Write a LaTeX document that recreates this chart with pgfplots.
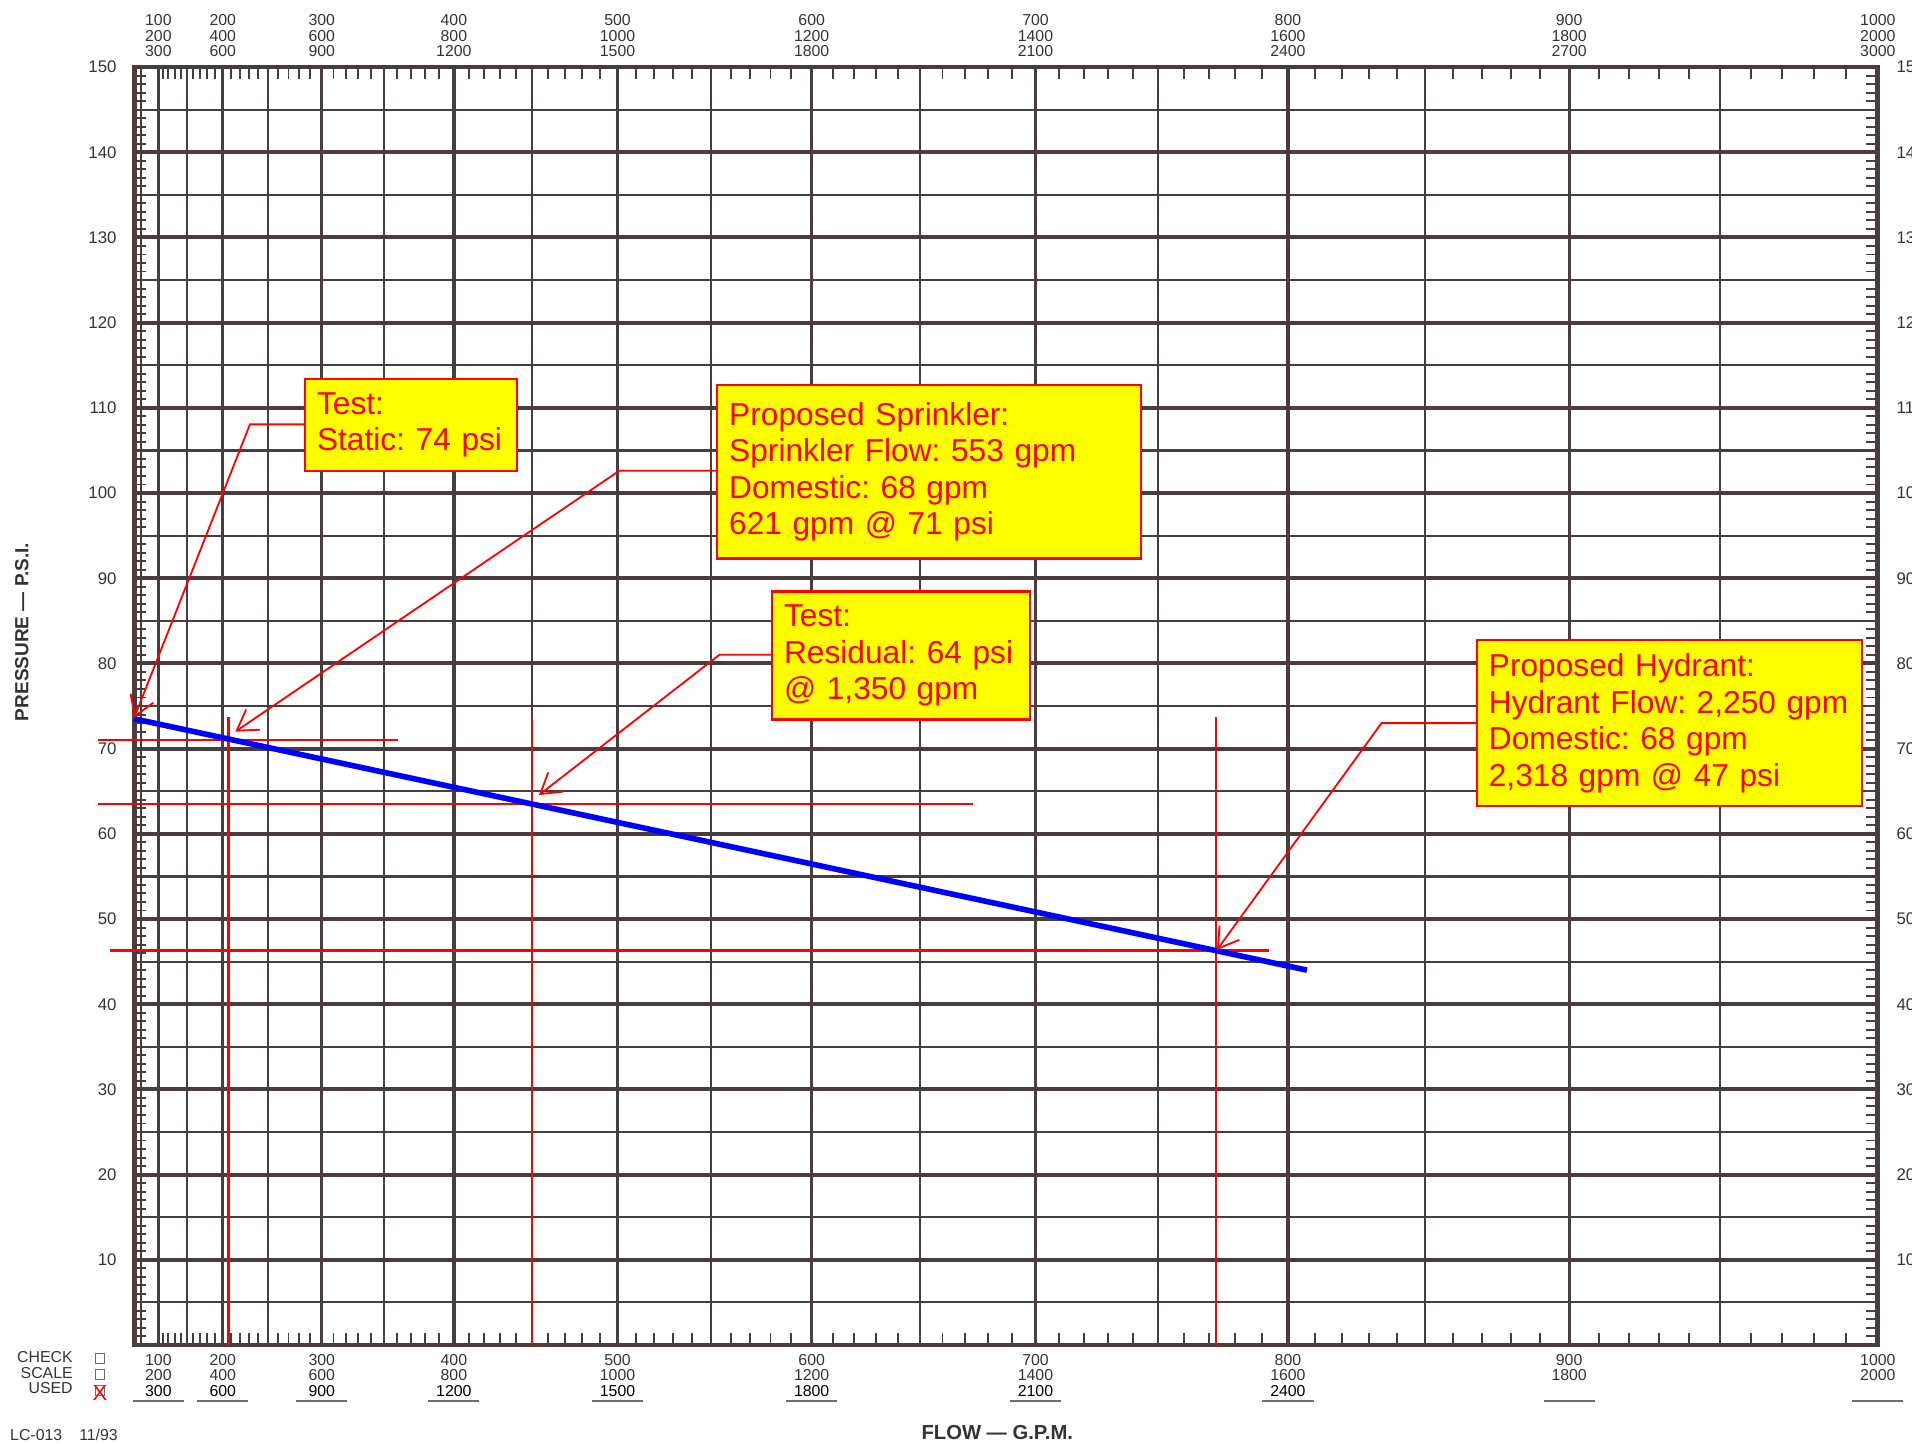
\documentclass[border=0pt]{standalone}
\usepackage{pgfplots}
\pgfplotsset{compat=1.18}
\usepackage{fontspec}
\setmainfont{Liberation Sans}
\usetikzlibrary{arrows.meta}
\definecolor{gridc}{RGB}{72,60,60}
\definecolor{printc}{RGB}{55,50,50}
\definecolor{ulc}{RGB}{110,110,110}
\definecolor{annred}{RGB}{255,0,0}
\definecolor{annyel}{RGB}{255,255,0}
\definecolor{flowblue}{RGB}{0,0,255}
\frenchspacing
\newcommand\ul[1]{\rlap{\textcolor{ulc}{\rule[-2.2pt]{21pt}{0.75pt}}}\makebox[21pt]{\textcolor{black}{#1}}}
\newcommand\lblfont{\fontsize{6.5}{6.4}\selectfont}
\pgfplotsset{
  base/.style={
    scale only axis, width=715pt, height=524pt,
    at={(0,0)}, anchor=south west,
    xmin=0, xmax=3000, ymin=0, ymax=150,
    x coord trafo/.code={\pgfmathparse{100*pow(max(##1,30)/3000,1.85)}},
    x coord inv trafo/.code={\pgfmathparse{3000*pow(max(##1,0.01)/100,0.5405405)}},
    /pgf/number format/assume math mode=true,
  },
  nolabels/.style={xticklabels={}, yticklabels={}, major tick length=0pt, minor tick length=0pt, axis line style={draw=none}},
}
\tikzset{
  annbox/.style={draw=annred, fill=annyel, text=annred, line width=0.9pt, align=left,
    font=\fontsize{13}{15}\selectfont, inner xsep=5pt, inner ysep=0pt},
  annarrow/.style={annred, line width=0.75pt, -{Straight Barb[length=8pt,width=10pt]}},
  guide/.style={annred, line width=1pt},
}
\begin{document}
\begin{tikzpicture}
% vertical grid
\begin{axis}[base, nolabels,
  xtick={300,600,...,2700}, minor xtick={150,450,...,2850},
  ytick=\empty,
  xmajorgrids, xminorgrids,
  major grid style={gridc, line width=1.35pt},
  minor grid style={gridc, line width=0.9pt}]
\end{axis}
% horizontal grid
\begin{axis}[base, nolabels,
  xtick=\empty,
  ytick={10,20,...,140}, minor ytick={5,15,...,145},
  ymajorgrids, yminorgrids,
  major grid style={gridc, line width=1.6pt},
  minor grid style={gridc, line width=0.9pt}]
\end{axis}
% ruler ticks
\begin{axis}[base, xticklabels={}, yticklabels={}, axis line style={draw=none},
  xtick={330,360,...,2970}, ytick={1,2,...,149},
  tick align=inside, tick pos=both, major tick length=5pt,
  major tick style={gridc, line width=0.8pt}]
\end{axis}
% top and right labels
\begin{axis}[base, axis line style={draw=none}, major tick length=0pt,
  xtick={300,600,...,3000}, ytick={10,20,...,150},
  xticklabel pos=right, yticklabel pos=right,
  xticklabels={{100\\200\\300},{200\\400\\600},{300\\600\\900},{400\\800\\1200},{500\\1000\\1500},{600\\1200\\1800},{700\\1400\\2100},{800\\1600\\2400},{900\\1800\\2700},{1000\\2000\\3000}},
  xticklabel style={font=\lblfont, align=center, text=printc, inner sep=0pt, yshift=4pt},
  yticklabel style={font=\fontsize{6.9}{7}\selectfont, text=printc, inner sep=0pt, xshift=7.5pt}]
\end{axis}
% main axis
\begin{axis}[base, clip=false,
  axis line style={gridc, line width=2pt},
  xtick={300,600,...,3000}, ytick={10,20,...,150},
  major tick length=0pt, tick pos=left,
  xticklabels={{100\\200\\\ul{300}},{200\\400\\\ul{600}},{300\\600\\\ul{900}},{400\\800\\\ul{1200}},{500\\1000\\\ul{1500}},{600\\1200\\\ul{1800}},{700\\1400\\\ul{2100}},{800\\1600\\\ul{2400}},{900\\1800\\\ul{}},{1000\\2000\\\ul{}}},
  xticklabel style={font=\lblfont, align=center, text=printc, inner sep=0pt, yshift=-3.5pt},
  yticklabel style={font=\fontsize{6.9}{7}\selectfont, text=printc, inner sep=0pt, xshift=-7pt}]

% guide lines
\draw[guide] ([xshift=-15pt]axis cs:0,71) -- (axis cs:1082,71);
\draw[guide] (axis cs:621,73.7) -- (axis cs:621,0);
\draw[guide] ([xshift=-15pt]axis cs:0,63.5) -- (axis cs:2020,63.5);
\draw[guide] (axis cs:1350,73.7) -- (axis cs:1350,0);
\draw[guide] ([xshift=-10pt]axis cs:0,46.3) -- (axis cs:2378,46.3);
\draw[guide] (axis cs:2318,73.7) -- (axis cs:2318,0);

% water supply curve
\addplot[flowblue, line width=2.3pt] coordinates {(0,73.5) (1350,63.5) (2421,44.0)};

% annotation boxes and arrows
\draw[annarrow] (rel axis cs:0.0979,0.72042) -- (rel axis cs:0.06643,0.72042) -- (axis cs:0,73.6);
\draw[annarrow] (rel axis cs:0.33427,0.68416) -- (rel axis cs:0.27832,0.68416) -- (rel axis cs:0.05804,0.47996);
\draw[annarrow] (rel axis cs:0.36573,0.54008) -- (rel axis cs:0.33566,0.54008) -- (rel axis cs:0.23217,0.43034);
\draw[annarrow] (rel axis cs:0.76993,0.48664) -- (rel axis cs:0.71538,0.48664) -- (rel axis cs:0.62098,0.30916);

\node[annbox, text width=77pt, minimum height=37.5pt] at (rel axis cs:0.15874,0.71994) {\mbox{Test:}\\\mbox{Static: 74 psi}};
\node[annbox, text width=164pt, minimum height=71pt] at (rel axis cs:0.45594,0.68321) {\mbox{Proposed Sprinkler:}\\\mbox{Sprinkler Flow: 553 gpm}\\\mbox{Domestic: 68 gpm}\\\mbox{621 gpm @ 71 psi}};
\node[annbox, text width=96pt, minimum height=52.5pt] at (rel axis cs:0.43986,0.53960) {\mbox{Test:}\\\mbox{Residual: 64 psi}\\\mbox{@ 1,350 gpm}};
\node[annbox, text width=148pt, minimum height=68pt] at (rel axis cs:0.88042,0.48664) {\mbox{Proposed Hydrant:}\\\mbox{Hydrant Flow: 2,250 gpm}\\\mbox{Domestic: 68 gpm}\\\mbox{2,318 gpm @ 47 psi}};

% form texts
\node[anchor=north east, align=right, font=\lblfont, text=printc, inner sep=0pt] at ([xshift=-25pt, yshift=-2.5pt]rel axis cs:0,0) {CHECK\\SCALE\\USED};
\draw[ulc, line width=0.4pt] ([xshift=-16pt,yshift=-7.5pt]rel axis cs:0,0) rectangle ++(4pt,4pt);
\draw[ulc, line width=0.4pt] ([xshift=-16pt,yshift=-14pt]rel axis cs:0,0) rectangle ++(4pt,4pt);
\draw[ulc, line width=0.4pt] ([xshift=-16pt,yshift=-20.5pt]rel axis cs:0,0) rectangle ++(4pt,4pt);
\node[text=annred, font=\fontsize{9}{9}\selectfont, inner sep=0pt] at ([xshift=-14pt,yshift=-19.5pt]rel axis cs:0,0) {X};
\node[font=\bfseries\fontsize{8.3}{9}\selectfont, text=printc] at ([yshift=-36pt]rel axis cs:0.495,0) {FLOW — G.P.M.};
\node[rotate=90, font=\bfseries\fontsize{7.8}{9}\selectfont, text=printc] at ([xshift=-46pt]rel axis cs:0,0.558) {PRESSURE — P.S.I.};
\node[anchor=west, font=\fontsize{6.5}{7}\selectfont, text=printc, inner sep=0pt] at ([xshift=-51pt, yshift=-37pt]rel axis cs:0,0) {LC-013\hspace{7pt}11/93};
\end{axis}
\pgfresetboundingbox
\useasboundingbox (-55pt,-40.5pt) rectangle (729pt,551.5pt);
\end{tikzpicture}
\end{document}
